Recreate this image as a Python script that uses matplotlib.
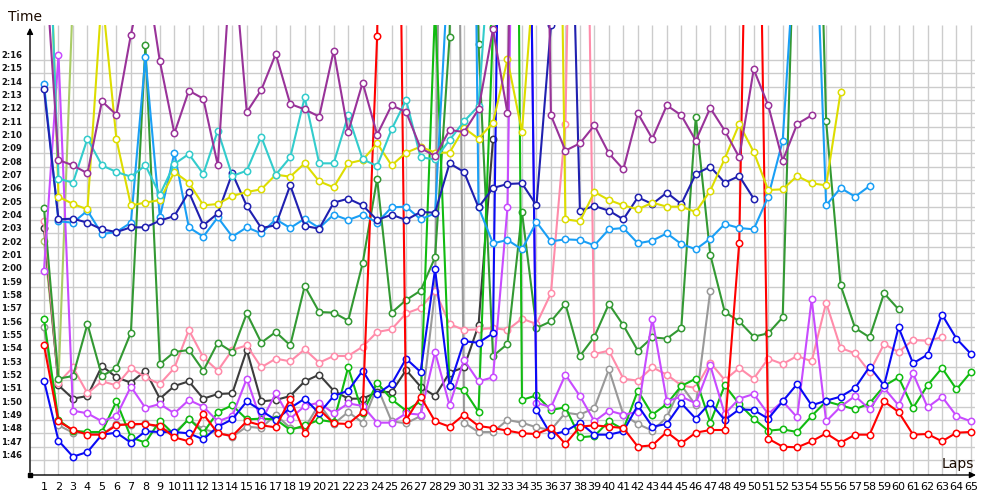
import matplotlib
matplotlib.use("Agg")
import matplotlib.pyplot as plt
from matplotlib.transforms import offset_copy
import numpy as np

# lap times in seconds, one list per driver (values above the chart are pit / slow laps)
purple = [145, 128.5, 128.1, 127.5, 132.9, 131.9, 137.9, 143, 135.9, 130.5, 133.7, 133.1, 128.1, 145,
          132.1, 133.75, 136.45, 132.7, 132.3, 131.75, 136.7, 130.6, 134.3, 130.4, 132.6, 132.1, 129.4,
          128.8, 130.75, 130.6, 132.3, 138.3, 132, 200, 200, 131.85, 129.2, 129.75, 131.1, 129, 127.8,
          132, 130.1, 132.6, 131.85, 129.95, 132.4, 130.7, 128.7, 135.3, 132.6, 128.45, 131.2, 131.85]
turquoise = [157, 127.1, 126.8, 130.1, 128.1, 127.6, 127.25, 128.1, 125.9, 128.2, 128.95, 127.45, 130.7,
             127.3, 127.7, 130.25, 127.4, 128.7, 133.2, 128.25, 128.25, 131.85, 128.55, 128.05, 130.8,
             133, 128.7, 128.55, 130, 131.4, 132.55, 148]
yellow = [160, 125.75, 125.2, 124.8, 141, 130.05, 125.1, 125.3, 125.5, 127.6, 126.8, 125.1, 125.2, 125.8,
          126.1, 126.3, 127.4, 127.25, 128.25, 126.9, 126.45, 128.25, 128.5, 129.75, 128.1, 129.05, 129.5,
          129.05, 129.05, 130.9, 130.1, 131.3, 136.05, 130.6, 145, 200, 124.05, 123.9, 126.1, 125.5, 125.1,
          124.8, 125.3, 125, 125, 124.6, 126.2, 128.6, 131.2, 129.1, 126.25, 126.3, 127.3, 126.75, 126.6,
          133.6]
navy = [133.8, 124.05, 124.1, 123.8, 123.3, 123.1, 123.45, 123.45, 123.95, 124.3, 126.1, 123.6, 124.5,
        127.5, 125.05, 123.4, 123.6, 126.6, 123.55, 123.35, 125.3, 125.6, 125.1, 124, 124.4, 124, 124.6,
        124.55, 128.25, 127.6, 124.95, 126.4, 126.7, 126.75, 125.1, 138.6, 167, 124.7, 125.05, 124.7,
        124.05, 125.7, 125.2, 126.05, 125.2, 127.45, 128, 126.8, 127.3, 125.6]
light_blue = [134.2, 123.9, 123.8, 124.7, 122.95, 123.1, 123.8, 136.2, 124.2, 129.05, 123.45, 122.75,
              124.2, 122.75, 123.45, 123, 124.05, 123.4, 124.1, 123.4, 124.4, 124, 124.4, 123.8, 124.95,
              125, 124.05, 124.5, 144.7, 220, 124.95, 122.25, 122.5, 121.8, 123.85, 122.4, 122.55, 122.5,
              122.1, 123.3, 123.4, 122.25, 122.45, 123, 122.2, 121.8, 122.6, 123.7, 123.4, 123.3, 125.75,
              129.95, 147, 155, 125.1, 126.4, 125.75, 126.55]
dark_green = [124.9, 112.1, 112.3, 116.2, 112.3, 112.9, 115.55, 137.1, 113.2, 114.1, 114.25, 112.7, 114.8,
              114.1, 117, 114.8, 115.6, 114.6, 119.05, 117.1, 117.05, 116.45, 120.75, 127.1, 117.05, 118,
              118.7, 121.2, 137.7, 200, 137.2, 113.8, 114.7, 124.6, 115.9, 116.4, 117.7, 113.8, 115.25,
              117.7, 116.1, 114.2, 115.2, 115.1, 115.9, 131.75, 121.4, 117.1, 116.4, 115.25, 115.5, 116.7,
              154, 171, 131.4, 119.1, 115.9, 115.2, 118.5, 117.3]
pink = [123.9, 111.8, 112.95, 111, 111.9, 111.6, 112.9, 112.2, 111.7, 112.9, 115.75, 113.7, 112.7, 114.25,
        114.6, 112.95, 113.6, 113.4, 114.3, 113.3, 113.8, 113.8, 114.5, 115.6, 115.8, 117, 117.4, 118.7,
        116.2, 115.75, 115.8, 115.9, 115.75, 116.6, 116.2, 118.5, 131.2, 190, 113.95, 114.2, 112.1, 111.95,
        112.95, 112.4, 111.6, 111.4, 113.3, 112, 112.9, 112.1, 113.6, 113.2, 113.8, 113.4, 117.8, 114.4,
        114, 112.6, 114.7, 114.1, 115, 114.95, 115.2]
dark_gray = [123.4, 111.6, 110.6, 110.8, 113.05, 112.2, 111.8, 112.7, 110.6, 111.55, 111.9, 110.6, 110.95,
             111, 114.25, 110.4, 110.5, 110.8, 111.9, 112.4, 111.2, 110.6, 110.6, 111.1, 111.1, 112.75,
             111.5, 110.8, 112.55, 112.95, 116.1, 130.05]
violet = [120.2, 136.4, 109.7, 109.5, 108.9, 109.3, 111.5, 109.9, 110.2, 109.5, 110.5, 110, 108.9, 109.3,
          112.1, 108.9, 111, 109.1, 110.05, 110.3, 109.5, 110.25, 110.05, 108.8, 108.8, 109.5, 109.4, 114.1,
          110.1, 113.5, 111.9, 112.2, 124.95, 200, 110.3, 109.95, 112.4, 110.8, 108.9, 109.7, 109.4, 109.6,
          116.6, 110.4, 110.75, 110.25, 113.1, 109.45, 110.6, 110.95, 109.45, 110.4, 109.2, 118.05, 108.9,
          110, 110.8, 109.8, 111.4, 110.1, 112.5, 109.95, 110.75, 109.3, 108.9]
green = [116.55, 109, 108.2, 108.1, 108.1, 110.4, 107.7, 107.3, 108.95, 107.9, 109.1, 108.05, 109.6, 110.1,
         109.05, 109.1, 109.05, 108.25, 108.6, 109, 108.85, 112.95, 109.5, 111.8, 110.55, 109.7, 110.4, 140,
         111.55, 111.25, 109.6, 138.5, 250, 110.5, 110.85, 109.75, 109.95, 107.7, 107.8, 108.9, 108.3,
         111.2, 109.4, 110.2, 111.55, 112.1, 108.8, 111.6, 110.2, 109.1, 108.2, 108.3, 108.1, 109.3, 110.4,
         110.1, 109.8, 110.25, 111.55, 112.2, 109.9, 111.6, 112.9, 111.3, 112.6]
red = [114.6, 108.9, 108.25, 107.9, 107.9, 108.6, 108.7, 108.7, 108.55, 107.7, 107.4, 109.45, 108, 107.8,
       108.9, 108.6, 108.45, 110.6, 108.05, 109.8, 108.75, 108.7, 109.6, 137.8, 200, 109, 110.75, 108.9,
       108.5, 109.4, 108.55, 108.4, 108.2, 108, 107.95, 108.4, 107.2, 108.5, 108.6, 108.5, 108.4, 107, 107.1,
       108.1, 107.25, 108.05, 108.25, 108.25, 122.3, 180, 107.6, 107, 106.95, 107.4, 108, 107.3, 107.9,
       107.9, 110.4, 109.6, 107.9, 107.95, 107.4, 108.05, 108.1]
blue = [111.95, 107.45, 106.25, 106.6, 107.9, 108.05, 107.3, 108.15, 108.1, 108.1, 108, 107.55, 108.5,
        109.05, 110.4, 109.7, 109, 109.9, 110.6, 109.5, 110.8, 111.2, 112.7, 110.95, 111.7, 113.6, 112.6,
        120.3, 111.55, 114.9, 114.8, 115.5, 200, 200, 109.75, 107.9, 108.15, 108.8, 107.9, 107.9, 108.15,
        110.1, 108.5, 108.7, 110.25, 109.1, 110.3, 109, 109.8, 109.75, 109.1, 110.4, 111.7, 110.1, 110.45,
        110.75, 111.4, 113, 111.6, 115.95, 113.25, 113.9, 116.9, 115.1, 113.95]
gray = [115.95, 108.6, 108.05, 108.05, 107.9, 108.7, 108.6, 108.75, 108.4, 108.05, 109.05, 108.3, 108.05,
        107.75, 108.5, 108.4, 109.4, 108.4, 108.4, 110.2, 108.7, 109.6, 108.8, 111.5, 108.9, 108.75, 109.3,
        118.7, 220, 108.8, 108.1, 108.1, 109, 108.8, 108.45, 108.25, 109.55, 109.4, 109.9, 112.8, 109.4,
        108.7, 108.2, 109.2, 111.6, 110.1, 118.7]
olive = [122.45, 111.9, 141]

series = [
    (olive, "#AACC66"),
    (gray, "#999999"),
    (dark_gray, "#3C3C3C"),
    (pink, "#FF8CAA"),
    (dark_green, "#339933"),
    (green, "#11BB11"),
    (violet, "#C84BFF"),
    (blue, "#0A0AF5"),
    (red, "#FF0000"),
    (light_blue, "#1A9FF5"),
    (navy, "#2020B0"),
    (yellow, "#DDDD00"),
    (turquoise, "#33CCCC"),
    (purple, "#993399"),
]

n_laps = 65
laps = np.arange(1, n_laps + 1)
grid_secs = np.arange(106, 137)

fig = plt.figure(figsize=(10, 5), dpi=100)
ax = fig.add_axes([0.03, 0.05, 0.945, 0.90])
xmin, xmax = 1 - 14 / 14.484, 1 + 931 / 14.484
ymin, ymax = 106 - 15 / 13.333, 136 + 35 / 13.333
ax.set_xlim(xmin, xmax)
ax.set_ylim(ymin, ymax)
for s in ax.spines.values():
    s.set_visible(False)

# grid
ax.vlines(laps, ymin, ymax, color="#CCCCCC", lw=1.0, zorder=0)
ax.hlines(grid_secs, xmin, xmax, color="#CCCCCC", lw=1.0, zorder=0)

for vals, col in series:
    x = laps[:len(vals)]
    ax.plot(x, vals, "-o", color=col, lw=1.5, ms=4.6, mfc="white", mec=col, mew=1.1,
            solid_joinstyle="miter", zorder=2)

# x tick labels
ax.set_xticks(laps)
ax.set_xticklabels([str(i) for i in laps], fontsize=8)
ax.tick_params(axis="x", length=0, pad=5)
ax.set_yticks([])

# y labels sit a little above their grid lines
trans = offset_copy(ax.get_yaxis_transform(), fig=fig, x=-8, y=4.5, units="dots")
for v in grid_secs:
    ax.text(0, v, f"{v // 60}:{v % 60:02d}", transform=trans, ha="right", va="center",
            fontsize=6, fontweight="bold", color="#111111")

# axes with arrows
ax.annotate("", xy=(0, 1.0), xytext=(0, 0), xycoords="axes fraction",
            arrowprops=dict(arrowstyle="-|>", color="black", lw=1.0, mutation_scale=9))
ax.annotate("", xy=(1.004, 0), xytext=(0, 0), xycoords="axes fraction",
            arrowprops=dict(arrowstyle="-|>", color="black", lw=1.0, mutation_scale=9))
ax.plot([0], [0], marker="s", ms=3, color="black", transform=ax.transAxes, clip_on=False, zorder=5)

fig.text(0.008, 1 - 21 / 500, "Time", fontsize=10, va="baseline", color="#1A0A00")
fig.text(0.974, 1 - 468 / 500, "Laps", fontsize=10, ha="right", va="baseline", color="#1A0A00")

fig.savefig("out.png", dpi=100)
